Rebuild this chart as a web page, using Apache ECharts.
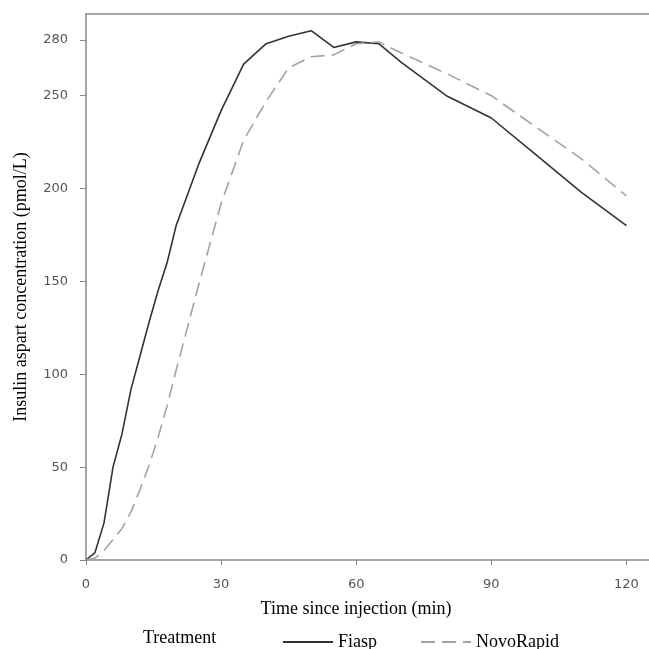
<!DOCTYPE html>
<html>
<head>
<meta charset="utf-8">
<script src="https://cdn.jsdelivr.net/npm/echarts@6/dist/echarts.min.js"></script>
<style>html,body{margin:0;padding:0;background:#fff}#c{width:649px;height:649px}</style>
</head>
<body>
<div id="c"></div>
<script>
var times = [0, 2, 4, 6, 8, 10, 12, 14, 16, 18, 20, 25, 30, 35, 40, 45, 50, 55, 60, 65, 70, 80, 90, 100, 110, 120];
var fiasp = [0, 4, 20, 50, 68, 92, 110, 128, 145, 160, 180, 213, 242, 267, 278, 282, 285, 276, 279, 278, 268, 250, 238, 218, 198, 180];
var novoRapid = [0, 1, 5, 11, 17, 26, 38, 51, 66, 83, 102, 148, 192, 226, 247, 265, 271, 272, 278, 279, 273, 262, 250, 233, 216, 196];
var xTicks = [0, 30, 60, 90, 120];
var yTicks = [0, 50, 100, 150, 200, 250, 280];

function pairs(xs, ys) { return xs.map(function (x, i) { return [x, ys[i]]; }); }

var chart = echarts.init(document.getElementById('c'));
var serif = '"Liberation Serif", "DejaVu Serif", serif';
var sans = '"DejaVu Sans", sans-serif';
chart.setOption({
  animation: false,
  backgroundColor: '#fff',
  grid: { left: 86, right: 0, top: 14, bottom: 89 },
  xAxis: [{
    type: 'value', min: 0, max: 125,
    axisLine: { show: true, lineStyle: { color: '#888', width: 1.5 } },
    axisTick: { show: true, length: 5, customValues: xTicks, lineStyle: { color: '#888' } },
    axisLabel: { customValues: xTicks, margin: 18, fontFamily: sans, fontSize: 13, color: '#555' },
    splitLine: { show: false }
  }, {
    type: 'value', min: 0, max: 125, position: 'top',
    axisLine: { show: true, lineStyle: { color: '#888', width: 1.5 } },
    axisTick: { show: false }, axisLabel: { show: false }, splitLine: { show: false }
  }],
  yAxis: {
    type: 'value', min: 0, max: 294,
    name: 'Insulin aspart concentration (pmol/L)',
    nameLocation: 'middle', nameGap: 56,
    nameTextStyle: { fontFamily: serif, fontSize: 18, color: '#000' },
    axisLine: { show: true, lineStyle: { color: '#888', width: 1.5 } },
    axisTick: { show: true, length: 6, customValues: yTicks, lineStyle: { color: '#888' } },
    axisLabel: { customValues: yTicks, margin: 18, fontFamily: sans, fontSize: 13, color: '#555' },
    splitLine: { show: false }
  },
  legend: {
    left: 277, top: 628,
    itemWidth: 50, itemHeight: 14, itemGap: 43,
    itemStyle: { opacity: 0 },
    textStyle: { fontFamily: serif, fontSize: 18, color: '#000' },
    data: ['Fiasp', 'NovoRapid']
  },
  graphic: [
    { type: 'text', left: 143, top: 629, style: { text: 'Treatment', font: '18px ' + serif, fill: '#000' } },
    { type: 'text', x: 356, y: 609, style: { text: 'Time since injection (min)', font: '18px ' + serif, fill: '#000', align: 'center', verticalAlign: 'middle' } }
  ],
  series: [{
    name: 'Fiasp', type: 'line', showSymbol: false, symbol: 'none',
    data: pairs(times, fiasp),
    lineStyle: { color: '#333', width: 1.6, type: 'solid' },
    itemStyle: { color: '#333' }
  }, {
    name: 'NovoRapid', type: 'line', showSymbol: false, symbol: 'none',
    data: pairs(times, novoRapid),
    lineStyle: { color: '#a3a3a3', width: 1.6, type: [14, 7] },
    itemStyle: { color: '#a3a3a3' }
  }]
});
</script>
</body>
</html>
